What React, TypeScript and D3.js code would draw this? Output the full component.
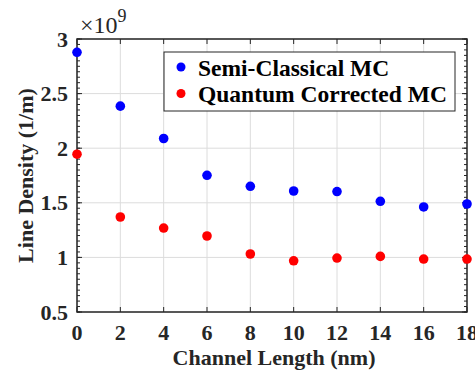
import React from "react";
import * as d3 from "d3";

const channelLength = [0, 2, 4, 6, 8, 10, 12, 14, 16, 18];
const semiClassical = [2.878, 2.385, 2.089, 1.752, 1.651, 1.608, 1.603, 1.514, 1.462, 1.489];
const quantumCorrected = [1.945, 1.37, 1.269, 1.196, 1.031, 0.969, 0.994, 1.009, 0.985, 0.985];
const xTicks = [0, 2, 4, 6, 8, 10, 12, 14, 16, 18];
const yTicks = [0.5, 1, 1.5, 2, 2.5, 3];
const yTickLabels = ["0.5", "1", "1.5", "2", "2.5", "3"];
const seriesNames = ["Semi-Classical MC", "Quantum Corrected MC"];
const seriesColors = ["#0000ff", "#ff0000"];

const W = 475, H = 374;
const L = 77, R = 467, T = 39, B = 312;
const font = "'Liberation Serif', 'Times New Roman', serif";

export default function App() {
  const x = d3.scaleLinear().domain([0, 18]).range([L, R]);
  const y = d3.scaleLinear().domain([0.5, 3]).range([B, T]);
  const minor = d3.range(0.5, 3.0001, 0.05);
  const series = [semiClassical, quantumCorrected];
  return (
    <svg width={W} height={H} style={{ position: "absolute", left: 0, top: 0 }}>
      <rect x={0} y={0} width={W} height={H} fill="#fff" />
      {/* grid */}
      {xTicks.map((t) => (
        <line key={"gx" + t} x1={x(t)} x2={x(t)} y1={T} y2={B} stroke="#dcdcdc" strokeWidth={1} />
      ))}
      {yTicks.map((t) => (
        <line key={"gy" + t} x1={L} x2={R} y1={y(t)} y2={y(t)} stroke="#dcdcdc" strokeWidth={1} />
      ))}
      {/* minor ticks */}
      {minor.map((t, i) => (
        <g key={"m" + i}>
          <line x1={L} x2={L + 3} y1={y(t)} y2={y(t)} stroke="#262626" strokeWidth={1} />
          <line x1={R} x2={R - 3} y1={y(t)} y2={y(t)} stroke="#262626" strokeWidth={1} />
        </g>
      ))}
      {/* major ticks */}
      {xTicks.map((t) => (
        <g key={"tx" + t}>
          <line x1={x(t)} x2={x(t)} y1={B} y2={B - 5} stroke="#262626" strokeWidth={1} />
          <line x1={x(t)} x2={x(t)} y1={T} y2={T + 5} stroke="#262626" strokeWidth={1} />
        </g>
      ))}
      {yTicks.map((t) => (
        <g key={"ty" + t}>
          <line x1={L} x2={L + 5} y1={y(t)} y2={y(t)} stroke="#262626" strokeWidth={1} />
          <line x1={R} x2={R - 5} y1={y(t)} y2={y(t)} stroke="#262626" strokeWidth={1} />
        </g>
      ))}
      <rect x={L} y={T} width={R - L} height={B - T} fill="none" stroke="#262626" strokeWidth={1.5} />
      {/* tick labels */}
      {xTicks.map((t) => (
        <text key={"lx" + t} x={x(t)} y={340} textAnchor="middle" fontFamily={font} fontWeight="bold" fontSize={22} fill="#262626">
          {t}
        </text>
      ))}
      {yTicks.map((t, i) => (
        <text key={"ly" + t} x={L - 9} y={y(t) + 7.5} textAnchor="end" fontFamily={font} fontWeight="bold" fontSize={22} fill="#262626">
          {yTickLabels[i]}
        </text>
      ))}
      <text x={80} y={33} fontFamily={font} fontSize={24} fill="#262626">
        ×10<tspan fontSize={18} dy={-11}>9</tspan>
      </text>
      {/* axis labels */}
      <text x={274} y={365} textAnchor="middle" fontFamily={font} fontWeight="bold" fontSize={22} fill="#262626">
        Channel Length (nm)
      </text>
      <text transform={`translate(33,${(T + B) / 2}) rotate(-90)`} textAnchor="middle" fontFamily={font} fontWeight="bold" fontSize={22} fill="#262626">
        Line Density (1/m)
      </text>
      {/* points */}
      {series.map((s, si) =>
        s.map((v, i) => (
          <circle key={si + "-" + i} cx={x(channelLength[i])} cy={y(v)} r={4.8} fill={seriesColors[si]} />
        ))
      )}
      {/* legend */}
      <rect x={164} y={52} width={291} height={59} fill="#fff" stroke="#262626" strokeWidth={1} />
      {seriesNames.map((n, i) => (
        <g key={n}>
          <circle cx={181} cy={67 + i * 26.5} r={4.5} fill={seriesColors[i]} />
          <text x={198} y={76 + i * 26} fontFamily={font} fontWeight="bold" fontSize={23.5} fill="#000">
            {n}
          </text>
        </g>
      ))}
    </svg>
  );
}
